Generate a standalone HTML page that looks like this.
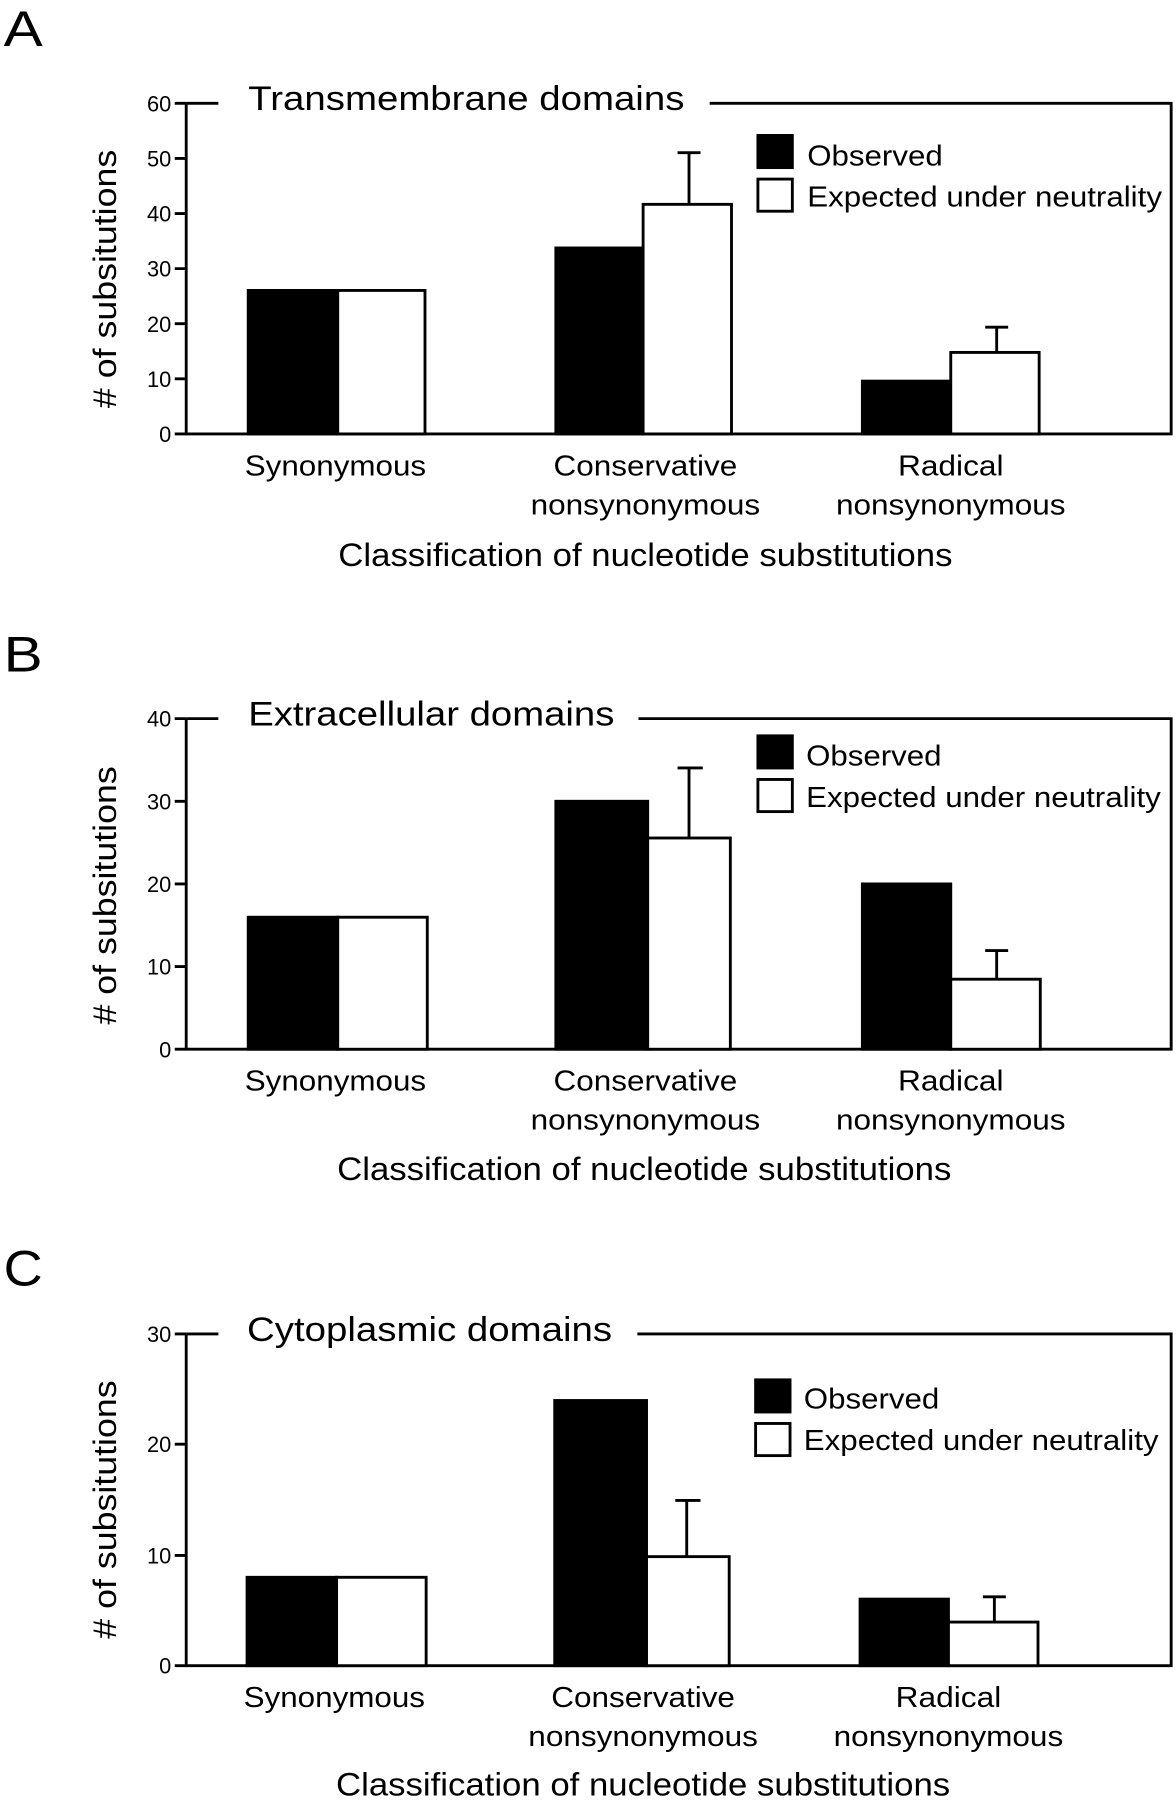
<!DOCTYPE html>
<html><head><meta charset="utf-8"><style>
html,body{margin:0;padding:0;background:#fff}
svg{display:block}
text{font-family:"Liberation Sans",Arial,sans-serif;fill:#000}
</style></head><body>
<svg width="1176" height="1800" viewBox="0 0 1024 1568" xmlns="http://www.w3.org/2000/svg">
<g stroke="#000" stroke-width="2.5" fill="none">
<path d="M162 90 V378 H1020 V90 H618 M162 90 H190"/>
<path d="M152 90H162M152 138H162M152 186H162M152 234H162M152 282H162M152 330H162M152 378H162"/>
<rect x="216" y="253" width="78" height="125" fill="#000"/>
<rect x="294" y="253" width="76" height="125" fill="#fff"/>
<rect x="484" y="216" width="76" height="162" fill="#000"/>
<rect x="560" y="178" width="77" height="200" fill="#fff"/>
<path d="M600 178V133M590 133H610"/>
<rect x="751" y="332" width="77" height="46" fill="#000"/>
<rect x="828" y="307" width="77" height="71" fill="#fff"/>
<path d="M868 307V285M858 285H878"/>
<rect x="660" y="118" width="30" height="28" fill="#000"/>
<rect x="660" y="156" width="30" height="28" fill="#fff"/>
<path d="M162 626 V914 H1020 V626 H556 M162 626 H190"/>
<path d="M152 626H162M152 698H162M152 770H162M152 842H162M152 914H162"/>
<rect x="216" y="799" width="78" height="115" fill="#000"/>
<rect x="294" y="799" width="78" height="115" fill="#fff"/>
<rect x="484" y="698" width="80" height="216" fill="#000"/>
<rect x="564" y="730" width="72" height="184" fill="#fff"/>
<path d="M600 730V669M590 669H612"/>
<rect x="751" y="770" width="77" height="144" fill="#000"/>
<rect x="828" y="853" width="78" height="61" fill="#fff"/>
<path d="M868 853V828M858 828H878"/>
<rect x="660" y="641" width="30" height="28" fill="#000"/>
<rect x="660" y="679" width="30" height="28" fill="#fff"/>
<path d="M162 1162 V1451 H1020 V1162 H555 M162 1162 H190"/>
<path d="M152 1162H162M152 1258H162M152 1355H162M152 1451H162"/>
<rect x="215" y="1374" width="78" height="77" fill="#000"/>
<rect x="293" y="1374" width="78" height="77" fill="#fff"/>
<rect x="483" y="1220" width="80" height="231" fill="#000"/>
<rect x="563" y="1356" width="72" height="95" fill="#fff"/>
<path d="M598 1356V1307M588 1307H610"/>
<rect x="749" y="1393" width="77" height="58" fill="#000"/>
<rect x="826" y="1413" width="78" height="38" fill="#fff"/>
<path d="M866 1413V1391M856 1391H876"/>
<rect x="658" y="1202" width="30" height="28" fill="#000"/>
<rect x="658" y="1240" width="30" height="28" fill="#fff"/>
</g>
<g font-size="25" lengthAdjust="spacingAndGlyphs">
<text x="3" y="40" font-size="44" textLength="34" lengthAdjust="spacingAndGlyphs">A</text>
<text x="3" y="585" font-size="44" textLength="34" lengthAdjust="spacingAndGlyphs">B</text>
<text x="3" y="1120" font-size="44" textLength="34" lengthAdjust="spacingAndGlyphs">C</text>
<g text-anchor="end" font-size="19">
<text x="149" y="97">60</text><text x="149" y="145">50</text><text x="149" y="193">40</text><text x="149" y="241">30</text><text x="149" y="289">20</text><text x="149" y="337">10</text><text x="149" y="385">0</text>
<text x="149" y="633">40</text><text x="149" y="705">30</text><text x="149" y="777">20</text><text x="149" y="849">10</text><text x="149" y="921">0</text>
<text x="149" y="1169">30</text><text x="149" y="1265">20</text><text x="149" y="1362">10</text><text x="149" y="1458">0</text>
</g>
<text x="216" y="96" font-size="30" textLength="380" lengthAdjust="spacingAndGlyphs">Transmembrane domains</text>
<text x="216" y="632" font-size="30" textLength="319" lengthAdjust="spacingAndGlyphs">Extracellular domains</text>
<text x="215" y="1168" font-size="30" textLength="318" lengthAdjust="spacingAndGlyphs">Cytoplasmic domains</text>
<text x="703" y="144" textLength="118" lengthAdjust="spacingAndGlyphs">Observed</text><text x="703" y="180" textLength="309" lengthAdjust="spacingAndGlyphs">Expected under neutrality</text>
<text x="702" y="667" textLength="118" lengthAdjust="spacingAndGlyphs">Observed</text><text x="702" y="703" textLength="309" lengthAdjust="spacingAndGlyphs">Expected under neutrality</text>
<text x="700" y="1227" textLength="118" lengthAdjust="spacingAndGlyphs">Observed</text><text x="700" y="1263" textLength="309" lengthAdjust="spacingAndGlyphs">Expected under neutrality</text>
<g text-anchor="middle">
<text x="292" y="414" textLength="158" lengthAdjust="spacingAndGlyphs">Synonymous</text><text x="562" y="414" textLength="160" lengthAdjust="spacingAndGlyphs">Conservative</text><text x="562" y="448" textLength="200" lengthAdjust="spacingAndGlyphs">nonsynonymous</text><text x="828" y="414" textLength="92" lengthAdjust="spacingAndGlyphs">Radical</text><text x="828" y="448" textLength="200" lengthAdjust="spacingAndGlyphs">nonsynonymous</text>
<text x="562" y="493" font-size="28" textLength="535" lengthAdjust="spacingAndGlyphs">Classification of nucleotide substitutions</text>
<text x="292" y="950" textLength="158" lengthAdjust="spacingAndGlyphs">Synonymous</text><text x="562" y="950" textLength="160" lengthAdjust="spacingAndGlyphs">Conservative</text><text x="562" y="984" textLength="200" lengthAdjust="spacingAndGlyphs">nonsynonymous</text><text x="828" y="950" textLength="92" lengthAdjust="spacingAndGlyphs">Radical</text><text x="828" y="984" textLength="200" lengthAdjust="spacingAndGlyphs">nonsynonymous</text>
<text x="561" y="1028" font-size="28" textLength="535" lengthAdjust="spacingAndGlyphs">Classification of nucleotide substitutions</text>
<text x="291" y="1487" textLength="158" lengthAdjust="spacingAndGlyphs">Synonymous</text><text x="560" y="1487" textLength="160" lengthAdjust="spacingAndGlyphs">Conservative</text><text x="560" y="1521" textLength="200" lengthAdjust="spacingAndGlyphs">nonsynonymous</text><text x="826" y="1487" textLength="92" lengthAdjust="spacingAndGlyphs">Radical</text><text x="826" y="1521" textLength="200" lengthAdjust="spacingAndGlyphs">nonsynonymous</text>
<text x="560" y="1564" font-size="28" textLength="535" lengthAdjust="spacingAndGlyphs">Classification of nucleotide substitutions</text>
<text transform="translate(101,243) rotate(-90)" font-size="28" textLength="225" lengthAdjust="spacingAndGlyphs"># of subsitutions</text>
<text transform="translate(101,780) rotate(-90)" font-size="28" textLength="225" lengthAdjust="spacingAndGlyphs"># of subsitutions</text>
<text transform="translate(101,1315) rotate(-90)" font-size="28" textLength="225" lengthAdjust="spacingAndGlyphs"># of subsitutions</text>
</g>
</g>
</svg>
</body></html>
